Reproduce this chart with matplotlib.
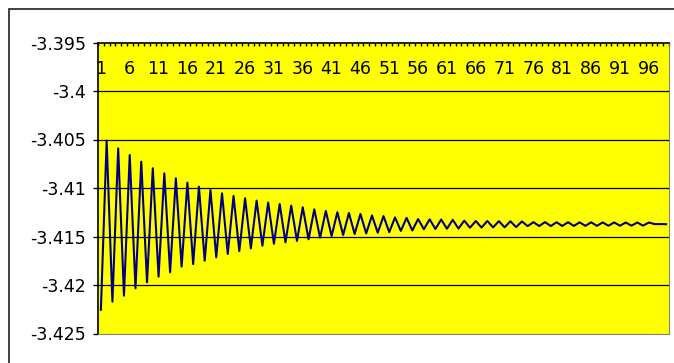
import numpy as np
import matplotlib
matplotlib.use('Agg')
import matplotlib.pyplot as plt
from matplotlib.patches import Rectangle

# DATOS
categorias = list(range(1, 100))
valores = [
    -3.42255, -3.40512, -3.42172, -3.40591, -3.42110, -3.40660, -3.42034, -3.40729, -3.41972, -3.40797,
    -3.41914, -3.40849, -3.41869, -3.40900, -3.41811, -3.40945, -3.41784, -3.40987, -3.41750, -3.41021,
    -3.41715, -3.41055, -3.41680, -3.41082, -3.41650, -3.41106, -3.41622, -3.41130, -3.41595, -3.41150,
    -3.41575, -3.41165, -3.41560, -3.41182, -3.41546, -3.41199, -3.41529, -3.41220, -3.41512, -3.41237,
    -3.41495, -3.41250, -3.41485, -3.41258, -3.41474, -3.41268, -3.41468, -3.41283, -3.41461, -3.41290,
    -3.41455, -3.41303, -3.41442, -3.41308, -3.41438, -3.41320, -3.41425, -3.41323, -3.41422, -3.41325,
    -3.41420, -3.41328, -3.41418, -3.41337, -3.41409, -3.41340, -3.41408, -3.41340, -3.41406, -3.41342,
    -3.41405, -3.41343, -3.41403, -3.41345, -3.41393, -3.41352, -3.41392, -3.41352, -3.41392, -3.41353,
    -3.41391, -3.41353, -3.41391, -3.41354, -3.41390, -3.41354, -3.41390, -3.41355, -3.41389, -3.41355,
    -3.41389, -3.41356, -3.41388, -3.41356, -3.41388, -3.41356, -3.41372, -3.41372, -3.41373,
]
y_ticks = [-3.425, -3.42, -3.415, -3.41, -3.405, -3.4, -3.395]
y_labels = ['-3.425', '-3.42', '-3.415', '-3.41', '-3.405', '-3.4', '-3.395']
x_labels = [str(c) for c in categorias[::5]]

plt.rcParams['font.family'] = ['DejaVu Sans']

W, H = 674, 363
fig = plt.figure(figsize=(W / 100, H / 100), dpi=100)
fig.patch.set_facecolor('white')

# borde exterior del grafico
fig.add_artist(Rectangle((9 / W, -0.1), 1.2, (H - 9) / H + 0.1, transform=fig.transFigure,
                         fill=False, edgecolor='#202020', linewidth=1.2))

ax = fig.add_axes([98 / W, (H - 333.5) / H, 571 / W, 291 / H])
ax.set_facecolor('#FFFF00')

ax.plot(categorias, valores, color='#000080', linewidth=1.5, zorder=3)

ax.set_xlim(0.5, len(categorias) + 0.5)
ax.set_ylim(-3.425, -3.395)

ax.set_yticks(y_ticks, y_labels)
for v in y_ticks[1:-1]:
    ax.axhline(v, color='black', linewidth=0.9, zorder=2)

ax.set_xticks(categorias[::5], x_labels)
ax.set_xticks(np.arange(0.5, len(categorias) + 1, 1.0), minor=True)

ax.tick_params(axis='y', direction='out', length=3.4, width=1, pad=5.5, color='black',
               labelsize=12.5, labelcolor='black')
ax.tick_params(axis='x', which='major', top=False, bottom=False, labeltop=True,
               labelbottom=False, pad=-29, labelsize=12.5, labelcolor='black')
ax.tick_params(axis='x', which='minor', top=True, bottom=False, direction='in',
               length=2.5, width=1, color='black')

ax.spines['left'].set_color('black')
ax.spines['left'].set_linewidth(1.2)
ax.spines['top'].set_color('black')
ax.spines['top'].set_linewidth(1.2)
ax.spines['right'].set_color('#808080')
ax.spines['bottom'].set_color('#808080')

fig.savefig('out.png', dpi=100)
